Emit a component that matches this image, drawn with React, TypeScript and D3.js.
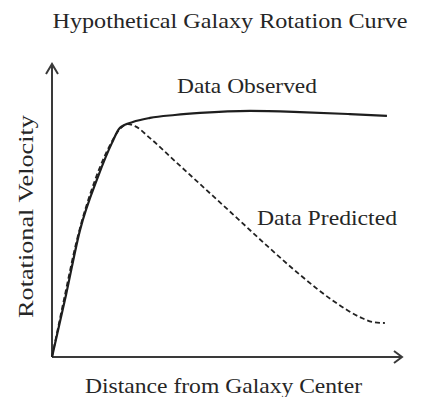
import React from "react";
import * as d3 from "d3";

const observedDistance = [0, 4, 8, 13.1, 17.1, 19.4, 23.1, 28, 35.1, 42.3, 56.6, 70.9, 85.1, 95.7];
const observedVelocity = [0, 21.2, 43.3, 61.4, 73.0, 78.2, 80.2, 81.6, 82.6, 83.3, 84.0, 83.6, 82.9, 82.3];

const predictedDistance = [0, 3.4, 7.1, 12.3, 16.6, 19.4, 21.7, 23.7, 28, 35.1, 42.3, 51.7, 61.4, 70.9, 80.3, 88, 91.7, 95.1];
const predictedVelocity = [0, 19.5, 39.9, 60.4, 72.4, 77.8, 79.5, 78.8, 74.7, 66.9, 59.0, 48.7, 38.0, 28.0, 19.2, 13.6, 11.9, 11.6];

const title = "Hypothetical Galaxy Rotation Curve";
const xLabel = "Distance from Galaxy Center";
const yLabel = "Rotational Velocity";
const observedLabel = "Data Observed";
const predictedLabel = "Data Predicted";

export default function App() {
  const W = 423, H = 397;
  const x = d3.scaleLinear().domain([0, 100]).range([52, 402]);
  const y = d3.scaleLinear().domain([0, 100]).range([357, 64]);
  const line = d3
    .line<[number, number]>()
    .x((d) => x(d[0]))
    .y((d) => y(d[1]))
    .curve(d3.curveMonotoneX);
  const obs = observedDistance.map((d, i) => [d, observedVelocity[i]] as [number, number]);
  const pred = predictedDistance.map((d, i) => [d, predictedVelocity[i]] as [number, number]);
  const x0 = x(0), y0 = y(0), xMax = x(100), yMax = y(100);
  const font = "'Liberation Serif', 'DejaVu Serif', serif";
  const textColor = "#262626";
  const axisColor = "#3a3a3a";
  const fs = 22;
  return (
    <svg width={W} height={H} style={{ position: "absolute", left: 0, top: 0, display: "block", background: "#fff" }}>
      <text x={230} y={28} textAnchor="middle" fontFamily={font} fontSize={fs} fill={textColor} textLength={355} lengthAdjust="spacingAndGlyphs">{title}</text>
      {/* axes */}
      <line x1={x0} y1={y0} x2={x0} y2={yMax} stroke={axisColor} strokeWidth={2} />
      <line x1={x0} y1={y0} x2={xMax} y2={y0} stroke={axisColor} strokeWidth={2} />
      <path d={`M${x0 - 6},${yMax + 10} L${x0},${yMax} L${x0 + 6},${yMax + 10}`} fill="none" stroke={axisColor} strokeWidth={2} />
      <path d={`M${xMax - 8},${y0 - 6} L${xMax},${y0} L${xMax - 8},${y0 + 6}`} fill="none" stroke={axisColor} strokeWidth={2} />
      {/* curves */}
      <path d={line(pred) || ""} fill="none" stroke="#222" strokeWidth={1.8} strokeDasharray="5,3" />
      <path d={line(obs) || ""} fill="none" stroke="#1e1e1e" strokeWidth={2.2} />
      {/* labels */}
      <text x={247} y={93} textAnchor="middle" fontFamily={font} fontSize={fs} fill={textColor} textLength={140} lengthAdjust="spacingAndGlyphs">{observedLabel}</text>
      <text x={327} y={225} textAnchor="middle" fontFamily={font} fontSize={fs} fill={textColor} textLength={140} lengthAdjust="spacingAndGlyphs">{predictedLabel}</text>
      <text x={223.5} y={393} textAnchor="middle" fontFamily={font} fontSize={fs} fill={textColor} textLength={277} lengthAdjust="spacingAndGlyphs">{xLabel}</text>
      <text transform="translate(33,216.5) rotate(-90)" textAnchor="middle" fontFamily={font} fontSize={fs} fill={textColor} textLength={203} lengthAdjust="spacingAndGlyphs">{yLabel}</text>
    </svg>
  );
}
